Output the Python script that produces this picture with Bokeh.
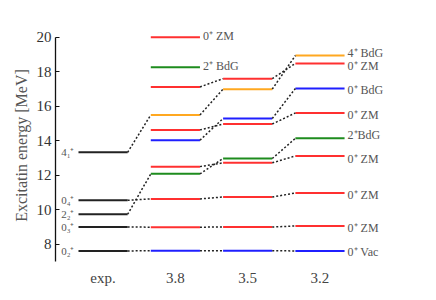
from bokeh.plotting import figure
from bokeh.models import ColumnDataSource, FixedTicker
from bokeh.core.properties import value
from bokeh.embed import file_html
from bokeh.resources import INLINE

# ---- data ----
columns = ["exp.", "3.8", "3.5", "3.2"]

exp_energy = [7.61, 9.00, 9.74, 10.55, 13.33]
exp_labels = ["0\u2082\u207a", "0\u2083\u207a", "2\u2082\u207a", "0\u2084\u207a", "4\u2081\u207a"]

# theory states tracked over the three parameter values (3.8, 3.5, 3.2)
state_kind = ["vac", "zm", "zm", "bdg2", "zm", "bdg0", "zm", "bdg4", "zm"]
state_3_8 = [7.63, 8.99, 10.63, 12.08, 12.50, 14.03, 14.63, 15.50, 17.12]
state_3_5 = [7.63, 9.00, 10.74, 12.97, 12.72, 15.29, 14.97, 16.99, 17.60]
state_3_2 = [7.61, 9.06, 10.97, 14.14, 13.12, 17.03, 15.61, 18.94, 18.48]
state_labels = ["0\u207a Vac", "0\u207a ZM", "0\u207a ZM", "2\u207aBdG", "0\u207a ZM",
                "0\u207a BdG", "0\u207a ZM", "4\u207a BdG", "0\u207a ZM"]
# experimental level each state is linked to (index into exp arrays, -1 = none)
state_exp_link = [0, 1, 3, 2, -1, -1, -1, 4, -1]

# key entries drawn at the 3.8 column
key_energy = [20.0, 18.26]
key_kind = ["zm", "bdg2"]
key_labels = ["0\u207a ZM", "2\u207a BdG"]

# ---- styles ----
kind_color = {"vac": "#1f1fff", "zm": "#ff3030", "bdg2": "#1e8c1e",
              "bdg0": "#1f1fff", "bdg4": "#ffa820"}
label_nudge = [1, 2, 2, -3, 3, 2, 2, -3, 3]  # px, to keep labels apart
seg_w = 0.68
text_col = "#555555"
serif = "Liberation Serif"

p = figure(width=428, height=292, x_range=(-0.318, 4.841), y_range=(7, 20.45),
           output_backend="svg", toolbar_location=None,
           min_border_left=55, min_border_right=0, min_border_top=29, min_border_bottom=31)
p.outline_line_color = None
p.xgrid.visible = False
p.ygrid.visible = False
p.background_fill_color = "white"

# experimental levels
ex = ColumnDataSource(dict(x0=[0.0] * len(exp_energy), x1=[seg_w] * len(exp_energy),
                           y=exp_energy, lab=exp_labels))
p.segment(x0="x0", y0="y", x1="x1", y1="y", source=ex, line_color="#222222", line_width=2)
p.text(x="x0", y="y", text="lab", source=ex, text_font=value(serif), text_font_size="11px",
       text_color=text_col, text_align="right", text_baseline="middle", x_offset=-4)

# theory levels
cols = [state_3_8, state_3_5, state_3_2]
lx0, lx1, ly, lc = [], [], [], []
for ci, vals in enumerate(cols):
    for k, v in zip(state_kind, vals):
        lx0.append(ci + 1.0)
        lx1.append(ci + 1.0 + seg_w)
        ly.append(v)
        lc.append(kind_color[k])
for k, v in zip(key_kind, key_energy):
    lx0.append(1.0)
    lx1.append(1.0 + seg_w)
    ly.append(v)
    lc.append(kind_color[k])
lv = ColumnDataSource(dict(x0=lx0, x1=lx1, y=ly, c=lc))
p.segment(x0="x0", y0="y", x1="x1", y1="y", source=lv, line_color="c", line_width=2)

# connectors
cx0, cx1, cy0, cy1 = [], [], [], []
for si, link in enumerate(state_exp_link):
    if link >= 0:
        cx0.append(seg_w); cx1.append(1.0)
        cy0.append(exp_energy[link]); cy1.append(state_3_8[si])
for ci in range(2):
    for a, b in zip(cols[ci], cols[ci + 1]):
        cx0.append(ci + 1 + seg_w); cx1.append(ci + 2.0)
        cy0.append(a); cy1.append(b)
cn = ColumnDataSource(dict(x0=cx0, x1=cx1, y0=cy0, y1=cy1))
p.segment(x0="x0", y0="y0", x1="x1", y1="y1", source=cn, line_color="#222222",
          line_width=1.5, line_dash="2 2")

# labels at 3.2 column
for lab, v, dy in zip(state_labels, state_3_2, label_nudge):
    p.text(x=[3 + seg_w], y=[v], text=[lab], text_font=value(serif), text_font_size="12px",
           text_color=text_col, text_baseline="middle", x_offset=3, y_offset=dy)
for lab, v in zip(key_labels, key_energy):
    p.text(x=[1 + seg_w], y=[v], text=[lab], text_font=value(serif), text_font_size="12px",
           text_color=text_col, text_baseline="middle", x_offset=3, y_offset=-1)

# axes
ya = p.yaxis[0]
ya.bounds = (7, 20)
ya.ticker = FixedTicker(ticks=[8, 10, 12, 14, 16, 18, 20])
ya.major_tick_in = 4
ya.major_tick_out = 0
ya.minor_tick_line_color = None
ya.axis_line_color = "#111111"
ya.axis_line_width = 1.3
ya.major_tick_line_color = "#111111"
ya.major_label_text_font = serif
ya.major_label_text_font_size = "15px"
ya.major_label_text_color = "#333333"
ya.major_label_standoff = 4
ya.axis_label = "Excitatin energy [MeV]"
ya.axis_label_text_font = serif
ya.axis_label_text_font_size = "16px"
ya.axis_label_text_font_style = "normal"
ya.axis_label_text_color = "#555555"
ya.axis_label_standoff = 4

xa = p.xaxis[0]
xa.ticker = FixedTicker(ticks=[i + seg_w / 2 for i in range(len(columns))])
xa.major_label_overrides = {i + seg_w / 2: c for i, c in enumerate(columns)}
xa.axis_line_color = None
xa.major_tick_line_color = None
xa.minor_tick_line_color = None
xa.major_tick_out = 0
xa.major_label_text_font = serif
xa.major_label_text_font_size = "15px"
xa.major_label_text_color = "#444444"
xa.major_label_standoff = 8

open("out.html", "w").write(file_html(p, INLINE))
